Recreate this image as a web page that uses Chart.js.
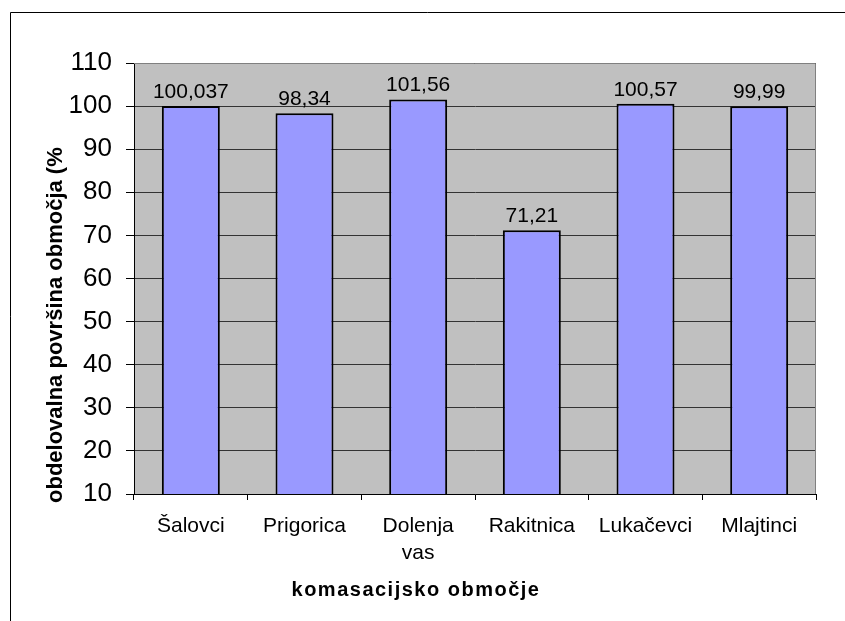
<!DOCTYPE html>
<html>
<head>
<meta charset="utf-8">
<script src="https://cdn.jsdelivr.net/npm/chart.js@4"></script>
<style>
  html, body { margin: 0; padding: 0; background: #ffffff; }
  #wrap { width: 845px; height: 621px; position: relative; }
</style>
</head>
<body>
<div id="wrap"><canvas id="c" width="845" height="621"></canvas></div>
<script>
const categories = ["Šalovci", "Prigorica", ["Dolenja", "vas"], "Rakitnica", "Lukačevci", "Mlajtinci"];
const values = [100.037, 98.34, 101.56, 71.21, 100.57, 99.99];
const valueLabels = ["100,037", "98,34", "101,56", "71,21", "100,57", "99,99"];
const yTicks = [10, 20, 30, 40, 50, 60, 70, 80, 90, 100, 110];
const yTitle = "obdelovalna površina območja (%";
const xTitle = "komasacijsko območje";

const FONT = "Arial, 'Liberation Sans', sans-serif";

const decor = {
  id: 'decor',
  beforeDraw(chart) {
    const ctx = chart.ctx;
    const a = chart.chartArea;
    ctx.save();
    ctx.fillStyle = '#ffffff';
    ctx.fillRect(0, 0, chart.width, chart.height);
    // outer frame (left and top visible)
    ctx.strokeStyle = '#000000';
    ctx.lineWidth = 1;
    ctx.beginPath();
    ctx.moveTo(10.5, chart.height);
    ctx.lineTo(10.5, 12.5);
    ctx.lineTo(chart.width, 12.5);
    ctx.stroke();
    // plot area background
    ctx.fillStyle = '#c0c0c0';
    ctx.fillRect(a.left, a.top, a.right - a.left, a.bottom - a.top);
    ctx.restore();
  },
  afterDatasetsDraw(chart) {
    const ctx = chart.ctx;
    const a = chart.chartArea;
    ctx.save();
    // plot border top and right
    ctx.strokeStyle = '#808080';
    ctx.lineWidth = 1;
    ctx.beginPath();
    ctx.moveTo(a.left, a.top + 0.5);
    ctx.lineTo(a.right - 0.5, a.top + 0.5);
    ctx.lineTo(a.right - 0.5, a.bottom);
    ctx.stroke();
    // value labels
    const meta = chart.getDatasetMeta(0);
    ctx.fillStyle = '#000000';
    ctx.font = "21px " + FONT;
    ctx.textAlign = 'center';
    ctx.textBaseline = 'alphabetic';
    meta.data.forEach((bar, i) => {
      ctx.fillText(valueLabels[i], bar.x, bar.y - 8);
    });
    // y title
    ctx.font = "bold 22px " + FONT;
    ctx.textAlign = 'left';
    ctx.save();
    ctx.translate(62, 503);
    ctx.rotate(-Math.PI / 2);
    ctx.fillText(yTitle, 0, 0);
    ctx.restore();
    // x title
    ctx.font = "bold 20px " + FONT;
    ctx.textAlign = 'center';
    try { ctx.letterSpacing = '1.5px'; } catch (e) {}
    ctx.fillText(xTitle, 416, 596);
    ctx.restore();
  }
};

new Chart(document.getElementById('c'), {
  type: 'bar',
  data: {
    labels: categories,
    datasets: [{
      data: values,
      backgroundColor: '#9999ff',
      borderColor: '#000000',
      borderWidth: 2,
      borderSkipped: false,
      barPercentage: 0.51,
      categoryPercentage: 1.0
    }]
  },
  options: {
    responsive: false,
    animation: false,
    devicePixelRatio: 1,
    layout: { padding: { top: 63, right: 29, left: 0, bottom: 0 } },
    plugins: { legend: { display: false }, tooltip: { enabled: false } },
    scales: {
      x: {
        afterFit(scale) { scale.height = 127; },
        grid: {
          offset: true,
          drawOnChartArea: false,
          drawTicks: true,
          tickLength: 6,
          color: '#000000'
        },
        border: { display: true, color: '#000000', width: 1 },
        ticks: {
          color: '#000000',
          font: { family: FONT, size: 21, lineHeight: 1.32 },
          padding: 12,
          maxRotation: 0,
          autoSkip: false
        }
      },
      y: {
        min: 10,
        max: 110,
        afterFit(scale) { scale.width = 134; },
        afterBuildTicks(scale) { scale.ticks = yTicks.map(v => ({ value: v })); },
        grid: {
          color: '#333333',
          lineWidth: 1,
          drawTicks: true,
          tickLength: 8,
          tickColor: '#000000'
        },
        border: { display: true, color: '#000000', width: 1 },
        ticks: {
          color: '#000000',
          font: { family: FONT, size: 26 },
          padding: 14
        }
      }
    }
  },
  plugins: [decor]
});
</script>
</body>
</html>
